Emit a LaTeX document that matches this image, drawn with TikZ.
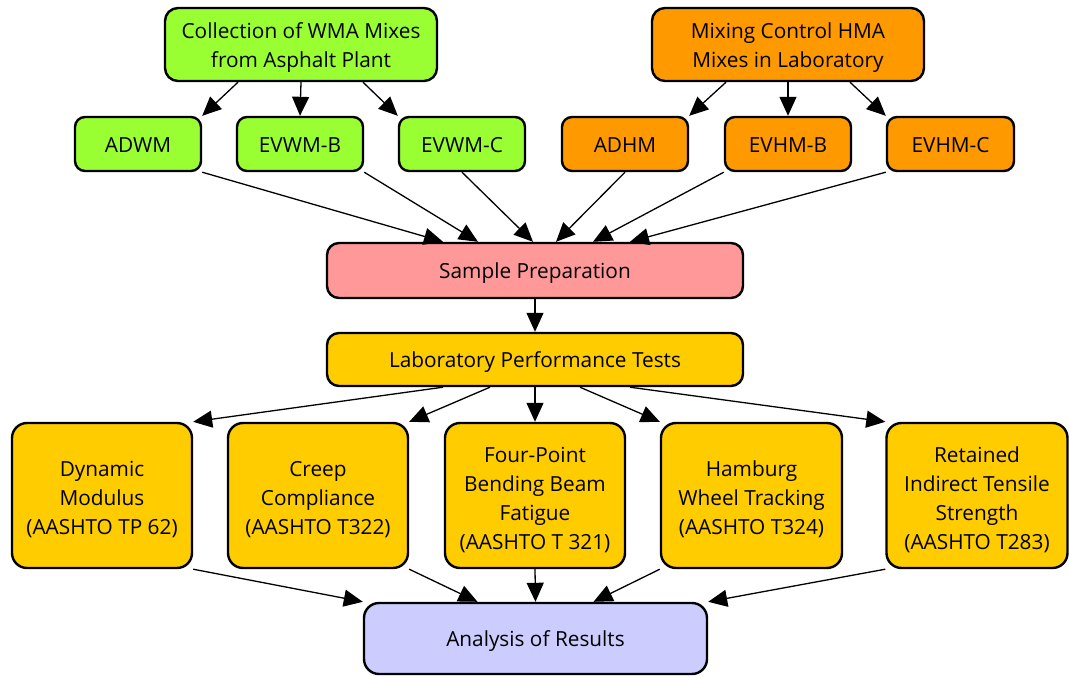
\documentclass[tikz,border=0pt]{standalone}
\usepackage{fontspec}
\setmainfont{Open Sans}
\usetikzlibrary{arrows.meta}
\definecolor{cgreen}{HTML}{99FF33}
\definecolor{corange}{HTML}{FF9900}
\definecolor{cpink}{HTML}{FF9999}
\definecolor{cyellow}{HTML}{FFCC00}
\definecolor{clav}{HTML}{CCCCFF}
\tikzset{
  box/.style={draw=black, line width=2.4pt, rounded corners=10pt, align=center,
    inner sep=0pt, font=\fontsize{20.8}{29}\selectfont, text=black, text depth=0pt},
  oneline/.style={text height=16pt},
  twolines/.style={text height=46pt},
  threelines/.style={text height=78pt},
  fourlines/.style={text height=107pt},
  conn/.style={line width=1.3pt, -{Triangle[length=19pt,width=17pt]}},
}
\begin{document}
\begin{tikzpicture}[x=1pt,y=-1pt]
\useasboundingbox (0,0) rectangle (1069,677);
% top
\node[box, twolines, fill=cgreen, minimum width=272pt, minimum height=73pt, rounded corners=13pt] (coll) at (301,44.5) {Collection of WMA Mixes\\from Asphalt Plant};
\node[box, twolines, fill=corange, minimum width=272pt, minimum height=73pt, rounded corners=13pt] (mix) at (788,44.5) {Mixing Control HMA\\Mixes in Laboratory};
% second row
\node[box, oneline, fill=cgreen, minimum width=126pt, minimum height=54pt] (adwm) at (138,144) {ADWM};
\node[box, oneline, fill=cgreen, minimum width=126pt, minimum height=54pt] (evwmb) at (300,144) {EVWM-B};
\node[box, oneline, fill=cgreen, minimum width=126pt, minimum height=54pt] (evwmc) at (462,144) {EVWM-C};
\node[box, oneline, fill=corange, minimum width=126pt, minimum height=54pt] (adhm) at (625,144) {ADHM};
\node[box, oneline, fill=corange, minimum width=126pt, minimum height=54pt] (evhmb) at (788,144) {EVHM-B};
\node[box, oneline, fill=corange, minimum width=127pt, minimum height=54pt] (evhmc) at (950.5,144) {EVHM-C};
% middle
\node[box, oneline, fill=cpink, minimum width=416pt, minimum height=55pt, rounded corners=12pt] (prep) at (535,270.5) {Sample Preparation};
\node[box, oneline, fill=cyellow, minimum width=416pt, minimum height=53pt, rounded corners=12pt] (lab) at (535,359.5) {Laboratory Performance Tests};
% tests
\node[box, threelines, fill=cyellow, minimum width=180pt, minimum height=145pt, rounded corners=15pt] (dyn) at (102,495.5) {Dynamic\\Modulus\\(AASHTO TP 62)};
\node[box, threelines, fill=cyellow, minimum width=180pt, minimum height=145pt, rounded corners=15pt] (creep) at (318,495.5) {Creep\\Compliance\\(AASHTO T322)};
\node[box, fourlines, fill=cyellow, minimum width=180pt, minimum height=145pt, rounded corners=15pt] (four) at (535,495.5) {Four-Point\\Bending Beam\\Fatigue\\(AASHTO T 321)};
\node[box, threelines, fill=cyellow, minimum width=181pt, minimum height=145pt, rounded corners=15pt] (ham) at (751.5,495.5) {Hamburg\\Wheel Tracking\\(AASHTO T324)};
\node[box, fourlines, fill=cyellow, minimum width=181pt, minimum height=145pt, rounded corners=15pt] (ret) at (977,495.5) {Retained\\Indirect Tensile\\Strength\\(AASHTO T283)};
% result
\node[box, oneline, fill=clav, minimum width=343pt, minimum height=71pt, rounded corners=15pt] (ana) at (535.5,638.5) {Analysis of Results};
% connectors top
\draw[conn] ([xshift=-63pt]coll.south) -- (adwm.north east);
\draw[conn] (coll.south) -- (evwmb.north);
\draw[conn] ([xshift=62pt]coll.south) -- (evwmc.north west);
\draw[conn] ([xshift=-62pt]mix.south) -- (adhm.north east);
\draw[conn] (mix.south) -- (evhmb.north);
\draw[conn] ([xshift=62pt]mix.south) -- (evhmc.north west);
% to sample prep
\draw[conn] (adwm.south east) -- ([xshift=-92pt]prep.north);
\draw[conn] (evwmb.south east) -- ([xshift=-57pt]prep.north);
\draw[conn] (evwmc.south) -- ([xshift=-2pt]prep.north);
\draw[conn] (adhm.south) -- ([xshift=21pt]prep.north);
\draw[conn] (evhmb.south west) -- ([xshift=58pt]prep.north);
\draw[conn] (evhmc.south west) -- ([xshift=95pt]prep.north);
% prep to lab
\draw[conn] (prep.south) -- (lab.north);
% lab to tests
\draw[conn] ([xshift=-92pt]lab.south) -- (dyn.north east);
\draw[conn] ([xshift=-45pt]lab.south) -- (creep.north east);
\draw[conn] (lab.south) -- (four.north);
\draw[conn] ([xshift=45pt]lab.south) -- (ham.north west);
\draw[conn] ([xshift=95pt]lab.south) -- (ret.north west);
% tests to analysis
\draw[conn] (dyn.south east) -- (ana.north west);
\draw[conn] (creep.south east) -- ([xshift=-58pt]ana.north);
\draw[conn] (four.south) -- (ana.north);
\draw[conn] (ham.south west) -- ([xshift=58pt]ana.north);
\draw[conn] (ret.south west) -- (ana.north east);
\end{tikzpicture}
\end{document}
